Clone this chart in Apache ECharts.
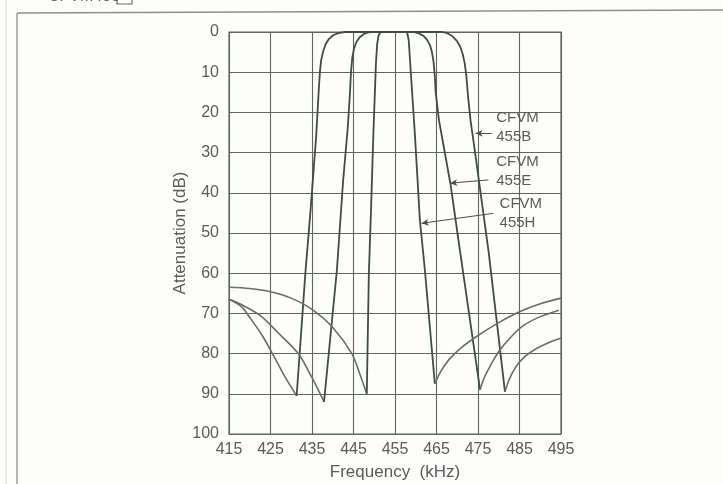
<!DOCTYPE html>
<html>
<head>
<meta charset="utf-8">
<script src="https://cdn.jsdelivr.net/npm/echarts@6/dist/echarts.min.js"></script>
<style>
  html, body { margin: 0; padding: 0; background: #fdfdfc; }
  #chart { width: 723px; height: 484px; }
</style>
</head>
<body>
<div id="chart"></div>
<script>
// 横轴刻度 (kHz)
const freqMin = 415;
const freqMax = 495;
const freqStep = 10;
// 纵轴刻度 (dB)
const attMin = 0;
const attMax = 100;
const attStep = 10;

// CFVM455B  [kHz, dB]
const b455Stop1 = [[415, 66.5], [418, 68.3], [420, 71], [423, 75.5], [426, 81], [428.5, 85.8], [431.3, 90.5]];
const b455Pass = [[431.3, 90.5], [433.4, 60], [434.6, 45], [436.0, 26], [436.6, 15], [436.9, 10], [437.2, 7],
  [437.7, 4.8], [438.3, 3], [439.1, 1.7], [440.1, 0.8], [441.3, 0.3], [443, 0], [466.4, 0], [467.6, 0.3],
  [468.8, 1], [469.9, 2.2], [470.7, 3.6], [471.3, 5.4], [471.8, 7.8], [472.2, 11], [472.6, 16],
  [473.2, 22], [474.3, 30], [477.6, 55], [481.5, 89.5]];
const b455Stop2 = [[481.5, 89.5], [482.5, 86.5], [484, 83.5], [486, 81], [489, 78.8], [492, 77.3], [495, 76.2]];

// CFVM455E
const e455Stop1 = [[415, 66.5], [418, 67.8], [422.5, 70.5], [427, 75], [431.7, 80], [435, 86], [437.9, 92]];
const e455Pass = [[437.9, 92], [441, 59.2], [442.5, 37], [443.6, 24], [444.1, 16], [444.4, 10], [444.7, 6.5],
  [445.1, 4.2], [445.7, 2.5], [446.5, 1.3], [447.5, 0.5], [448.6, 0.1], [449.8, 0], [459.4, 0], [460.6, 0.3],
  [461.8, 0.9], [462.7, 1.9], [463.4, 3.2], [463.9, 5], [464.3, 7.5], [464.6, 11], [464.8, 15],
  [465.6, 22], [468.4, 38], [470.6, 54], [475.5, 89]];
const e455Stop2 = [[475.5, 89], [476.5, 86], [478, 83], [480, 79.5], [483, 75.8], [486, 73], [490, 70.8], [494.5, 69.2]];

// CFVM455H
const h455Stop1 = [[415, 63.5], [420, 63.8], [425, 64.6], [430, 66.2], [435, 69], [440, 73.5], [444.6, 80], [446.5, 85], [448.2, 90]];
const h455Pass = [[448.2, 90], [448.7, 60], [449.2, 45], [449.8, 25], [450.4, 8], [450.7, 3], [451.0, 1], [451.5, 0],
  [457.9, 0], [458.3, 2], [459.8, 25.6], [461.0, 46.8], [462.2, 59.2], [464.6, 87.5]];
const h455Stop2 = [[464.6, 87.5], [466, 84.5], [468, 81.5], [471, 78.5], [475, 75.5], [480, 72.3], [485, 69.6], [490, 67.6], [495, 66.2]];

// 标注: 箭头起点 -> 曲线上的位置, 文字左边缘 [kHz, dB]
const labelNames = ['CFVM\n455B', 'CFVM\n455E', 'CFVM\n455H'];
const arrowFrom = [[478.3, 25.2], [477.5, 36.8], [478.7, 45.1]];
const arrowTo = [[474.4, 25.2], [468.3, 37.6], [461.4, 47.6]];
const labelAt = [[479.4, 23.7], [479.4, 34.6], [480.2, 45.2]];

const passColor = '#3f4d43';
const stopColor = '#6a6e6a';
const gridColor = '#5c685f';
const textColor = '#5a5c5a';
const fontFamily = 'Liberation Sans, Arial, sans-serif';

function passSeries(data, note) {
  return {
    type: 'line',
    data: data,
    symbol: 'none',
    lineStyle: { color: passColor, width: 1.8 },
    markLine: note
  };
}

function stopSeries(data) {
  return {
    type: 'line',
    data: data,
    smooth: 0.3,
    symbol: 'none',
    lineStyle: { color: stopColor, width: 1.6 }
  };
}

function noteLine(i) {
  return {
    silent: true,
    symbol: ['none', 'arrow'],
    symbolSize: [5, 7],
    lineStyle: { color: '#4a4f4a', width: 1, type: 'solid' },
    label: { show: false },
    data: [[{ coord: arrowFrom[i] }, { coord: arrowTo[i] }]]
  };
}

const chart = echarts.init(document.getElementById('chart'), null, { renderer: 'canvas' });

chart.setOption({
  backgroundColor: '#fdfdfc',
  animation: false,
  textStyle: { fontFamily: fontFamily },
  grid: {
    left: 229, right: 162, top: 32, bottom: 50,
    outerBoundsMode: 'none',
    containLabel: false,
    show: true,
    borderColor: gridColor,
    borderWidth: 1.2
  },
  xAxis: {
    type: 'value',
    min: freqMin, max: freqMax, interval: freqStep,
    name: 'Frequency  (kHz)',
    nameLocation: 'middle',
    nameGap: 30,
    nameTextStyle: { color: textColor, fontSize: 17 },
    axisLine: { show: false },
    axisTick: { show: false },
    axisLabel: { color: textColor, fontSize: 16, margin: 8 },
    splitLine: { lineStyle: { color: gridColor, width: 1.1 } }
  },
  yAxis: {
    type: 'value',
    inverse: true,
    min: attMin, max: attMax, interval: attStep,
    name: 'Attenuation (dB)',
    nameLocation: 'middle',
    nameGap: 36,
    nameTextStyle: { color: textColor, fontSize: 17 },
    axisLine: { show: false },
    axisTick: { show: false },
    axisLabel: { color: textColor, fontSize: 16, margin: 10 },
    splitLine: { lineStyle: { color: gridColor, width: 1.1 } }
  },
  series: [
    stopSeries(b455Stop1), passSeries(b455Pass, noteLine(0)), stopSeries(b455Stop2),
    stopSeries(e455Stop1), passSeries(e455Pass, noteLine(1)), stopSeries(e455Stop2),
    stopSeries(h455Stop1), passSeries(h455Pass, noteLine(2)), stopSeries(h455Stop2)
  ]
});

// 外框、被裁掉的标题和型号文字
const decor = [
  { type: 'line', shape: { x1: 17, y1: 13, x2: 723, y2: 10 }, style: { stroke: '#8c918c', lineWidth: 1.5 } },
  { type: 'line', shape: { x1: 17, y1: 13, x2: 17, y2: 484 }, style: { stroke: '#9a9e9a', lineWidth: 1.5 } },
  { type: 'line', shape: { x1: 6, y1: 0, x2: 6, y2: 484 }, style: { stroke: '#dcdedc', lineWidth: 1 } },
  {
    type: 'text', x: 48, y: -11,
    style: { text: 'CFVM455', fill: textColor, font: '16px ' + fontFamily }
  },
  { type: 'rect', shape: { x: 117, y: -6, width: 15, height: 10 }, style: { fill: 'none', stroke: '#6a6c6a', lineWidth: 1.2 } }
];
labelNames.forEach(function (name, i) {
  const p = chart.convertToPixel({ gridIndex: 0 }, labelAt[i]);
  decor.push({
    type: 'text', x: p[0], y: p[1],
    style: {
      text: name, fill: textColor, font: '15px ' + fontFamily,
      lineHeight: 19, align: 'left', verticalAlign: 'middle'
    }
  });
});
chart.setOption({ graphic: decor });
</script>
</body>
</html>
